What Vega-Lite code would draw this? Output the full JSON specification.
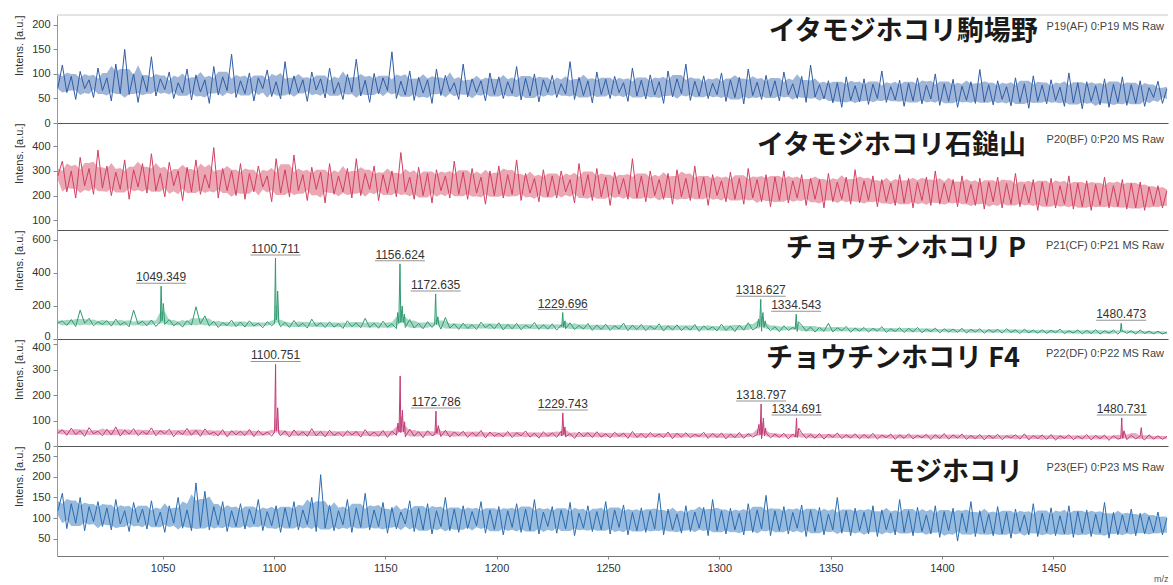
{
"$schema": "https://vega.github.io/schema/vega-lite/v6.json",
"padding": {"left": 13, "top": 14, "right": 3, "bottom": 0},
"background": "white",
"spacing": 0,
"bounds": "flush",
"resolve": {"scale": {"x": "independent", "y": "independent"}},
"config": {
"view": {"stroke": null},
"text": {"font": "Liberation Sans"},
"axis": {"labelFont": "Liberation Sans", "titleFont": "Liberation Sans", "labelFontSize": 11, "labelColor": "#333", "titleFontSize": 11, "titleFontWeight": "normal", "titleColor": "#333", "tickColor": "#888", "domainColor": "#999", "tickSize": 4, "labelPadding": 3, "titlePadding": 7, "grid": false, "labelFlush": false, "labelOverlap": false},
"axisY": {"titleAnchor": "end", "tickCount": 20}
},
"datasets": {
"s": [
{"mz":1003,"a":72,"b":280,"c":96,"d":50,"e":118},
{"mz":1005,"a":118,"b":340,"c":110,"d":64,"e":160},
{"mz":1007,"a":62,"b":215,"c":82,"d":42,"e":75},
{"mz":1009,"a":95,"b":300,"c":118,"d":70,"e":135},
{"mz":1011,"a":48,"b":190,"c":76,"d":45,"e":88},
{"mz":1013,"a":105,"b":355,"c":175,"d":60,"e":150},
{"mz":1015,"a":70,"b":240,"c":95,"d":38,"e":70},
{"mz":1017,"a":88,"b":310,"c":125,"d":72,"e":128},
{"mz":1019,"a":52,"b":205,"c":80,"d":48,"e":92},
{"mz":1021,"a":112,"b":385,"c":105,"d":58,"e":140},
{"mz":1023,"a":66,"b":230,"c":88,"d":40,"e":80},
{"mz":1025,"a":92,"b":320,"c":112,"d":66,"e":125},
{"mz":1027,"a":45,"b":200,"c":78,"d":44,"e":72},
{"mz":1029,"a":120,"b":295,"c":120,"d":75,"e":145},
{"mz":1031,"a":60,"b":225,"c":85,"d":39,"e":86},
{"mz":1033,"a":150,"b":345,"c":102,"d":62,"e":118},
{"mz":1035,"a":58,"b":185,"c":74,"d":47,"e":68},
{"mz":1037,"a":100,"b":305,"c":175,"d":68,"e":138},
{"mz":1039,"a":42,"b":235,"c":90,"d":41,"e":90},
{"mz":1041,"a":96,"b":330,"c":108,"d":57,"e":122},
{"mz":1043,"a":64,"b":210,"c":80,"d":46,"e":74},
{"mz":1045,"a":135,"b":370,"c":115,"d":71,"e":142},
{"mz":1047,"a":55,"b":220,"c":76,"d":40,"e":82},
{"mz":1049,"a":90,"b":290,"c":104,"d":60,"e":115},
{"mz":1051,"a":68,"b":195,"c":88,"d":48,"e":66},
{"mz":1053,"a":104,"b":335,"c":118,"d":66,"e":130},
{"mz":1055,"a":50,"b":240,"c":80,"d":37,"e":88},
{"mz":1057,"a":82,"b":300,"c":100,"d":58,"e":150},
{"mz":1059,"a":61,"b":180,"c":72,"d":45,"e":76},
{"mz":1061,"a":110,"b":315,"c":112,"d":69,"e":120},
{"mz":1063,"a":47,"b":215,"c":84,"d":42,"e":70},
{"mz":1065,"a":98,"b":345,"c":195,"d":62,"e":185},
{"mz":1067,"a":63,"b":205,"c":92,"d":38,"e":78},
{"mz":1069,"a":88,"b":285,"c":140,"d":67,"e":165},
{"mz":1071,"a":40,"b":230,"c":78,"d":46,"e":72},
{"mz":1073,"a":115,"b":395,"c":108,"d":55,"e":128},
{"mz":1075,"a":57,"b":190,"c":70,"d":40,"e":84},
{"mz":1077,"a":94,"b":310,"c":99,"d":64,"e":140},
{"mz":1079,"a":66,"b":220,"c":82,"d":36,"e":68},
{"mz":1081,"a":140,"b":300,"c":114,"d":60,"e":118},
{"mz":1083,"a":52,"b":200,"c":75,"d":44,"e":80},
{"mz":1085,"a":86,"b":330,"c":102,"d":58,"e":135},
{"mz":1087,"a":60,"b":185,"c":72,"d":41,"e":74},
{"mz":1089,"a":102,"b":290,"c":110,"d":65,"e":122},
{"mz":1091,"a":45,"b":215,"c":79,"d":37,"e":86},
{"mz":1093,"a":92,"b":320,"c":96,"d":61,"e":145},
{"mz":1095,"a":70,"b":235,"c":68,"d":43,"e":70},
{"mz":1097,"a":108,"b":280,"c":105,"d":55,"e":116},
{"mz":1099,"a":54,"b":175,"c":80,"d":39,"e":82},
{"mz":1101,"a":84,"b":350,"c":115,"d":66,"e":130},
{"mz":1103,"a":49,"b":210,"c":74,"d":40,"e":66},
{"mz":1105,"a":125,"b":305,"c":100,"d":59,"e":125},
{"mz":1107,"a":58,"b":195,"c":70,"d":35,"e":78},
{"mz":1109,"a":96,"b":365,"c":112,"d":63,"e":140},
{"mz":1111,"a":62,"b":220,"c":76,"d":42,"e":72},
{"mz":1113,"a":88,"b":285,"c":95,"d":56,"e":120},
{"mz":1115,"a":44,"b":180,"c":66,"d":38,"e":85},
{"mz":1117,"a":104,"b":315,"c":120,"d":68,"e":150},
{"mz":1119,"a":67,"b":225,"c":78,"d":40,"e":68},
{"mz":1121,"a":90,"b":295,"c":98,"d":57,"e":205},
{"mz":1123,"a":51,"b":170,"c":69,"d":36,"e":76},
{"mz":1125,"a":112,"b":330,"c":104,"d":62,"e":132},
{"mz":1127,"a":60,"b":205,"c":72,"d":41,"e":70},
{"mz":1129,"a":83,"b":280,"c":93,"d":54,"e":118},
{"mz":1131,"a":48,"b":215,"c":64,"d":37,"e":84},
{"mz":1133,"a":99,"b":310,"c":110,"d":60,"e":145},
{"mz":1135,"a":63,"b":190,"c":75,"d":43,"e":66},
{"mz":1137,"a":130,"b":350,"c":97,"d":57,"e":125},
{"mz":1139,"a":55,"b":200,"c":68,"d":35,"e":78},
{"mz":1141,"a":87,"b":290,"c":125,"d":64,"e":160},
{"mz":1143,"a":42,"b":225,"c":70,"d":40,"e":72},
{"mz":1145,"a":101,"b":320,"c":96,"d":55,"e":120},
{"mz":1147,"a":59,"b":180,"c":65,"d":38,"e":80},
{"mz":1149,"a":92,"b":285,"c":108,"d":61,"e":138},
{"mz":1151,"a":66,"b":210,"c":72,"d":34,"e":64},
{"mz":1153,"a":145,"b":300,"c":92,"d":58,"e":126},
{"mz":1155,"a":50,"b":195,"c":63,"d":42,"e":74},
{"mz":1157,"a":85,"b":375,"c":100,"d":53,"e":115},
{"mz":1159,"a":57,"b":215,"c":70,"d":36,"e":86},
{"mz":1161,"a":106,"b":275,"c":118,"d":66,"e":142},
{"mz":1163,"a":46,"b":185,"c":66,"d":39,"e":68},
{"mz":1165,"a":93,"b":315,"c":94,"d":56,"e":124},
{"mz":1167,"a":61,"b":200,"c":62,"d":33,"e":72},
{"mz":1169,"a":88,"b":290,"c":105,"d":60,"e":135},
{"mz":1171,"a":40,"b":170,"c":70,"d":40,"e":62},
{"mz":1173,"a":110,"b":305,"c":88,"d":52,"e":118},
{"mz":1175,"a":56,"b":220,"c":60,"d":37,"e":80},
{"mz":1177,"a":97,"b":280,"c":130,"d":62,"e":150},
{"mz":1179,"a":64,"b":190,"c":66,"d":35,"e":70},
{"mz":1181,"a":82,"b":340,"c":92,"d":55,"e":122},
{"mz":1183,"a":48,"b":205,"c":58,"d":41,"e":66},
{"mz":1185,"a":120,"b":295,"c":96,"d":58,"e":130},
{"mz":1187,"a":53,"b":185,"c":64,"d":34,"e":75},
{"mz":1189,"a":90,"b":310,"c":87,"d":53,"e":116},
{"mz":1191,"a":62,"b":210,"c":57,"d":39,"e":82},
{"mz":1193,"a":86,"b":275,"c":102,"d":61,"e":140},
{"mz":1195,"a":45,"b":165,"c":68,"d":32,"e":64},
{"mz":1197,"a":102,"b":300,"c":90,"d":55,"e":120},
{"mz":1199,"a":58,"b":200,"c":61,"d":38,"e":73},
{"mz":1201,"a":94,"b":320,"c":98,"d":50,"e":128},
{"mz":1203,"a":50,"b":190,"c":55,"d":36,"e":60},
{"mz":1205,"a":84,"b":285,"c":88,"d":57,"e":118},
{"mz":1207,"a":60,"b":205,"c":62,"d":33,"e":78},
{"mz":1209,"a":115,"b":345,"c":95,"d":52,"e":135},
{"mz":1211,"a":47,"b":180,"c":56,"d":40,"e":66},
{"mz":1213,"a":91,"b":290,"c":84,"d":59,"e":122},
{"mz":1215,"a":55,"b":210,"c":66,"d":35,"e":70},
{"mz":1217,"a":100,"b":270,"c":100,"d":50,"e":145},
{"mz":1219,"a":43,"b":175,"c":58,"d":31,"e":62},
{"mz":1221,"a":88,"b":305,"c":86,"d":56,"e":115},
{"mz":1223,"a":62,"b":195,"c":60,"d":38,"e":80},
{"mz":1225,"a":97,"b":280,"c":92,"d":51,"e":128},
{"mz":1227,"a":52,"b":190,"c":54,"d":34,"e":64},
{"mz":1229,"a":80,"b":300,"c":85,"d":58,"e":120},
{"mz":1231,"a":59,"b":215,"c":62,"d":36,"e":74},
{"mz":1233,"a":125,"b":265,"c":98,"d":49,"e":138},
{"mz":1235,"a":48,"b":170,"c":57,"d":30,"e":58},
{"mz":1237,"a":93,"b":330,"c":82,"d":55,"e":112},
{"mz":1239,"a":56,"b":200,"c":60,"d":37,"e":76},
{"mz":1241,"a":86,"b":285,"c":94,"d":52,"e":130},
{"mz":1243,"a":41,"b":180,"c":52,"d":33,"e":68},
{"mz":1245,"a":104,"b":310,"c":84,"d":56,"e":116},
{"mz":1247,"a":58,"b":195,"c":58,"d":35,"e":72},
{"mz":1249,"a":89,"b":275,"c":90,"d":48,"e":140},
{"mz":1251,"a":50,"b":160,"c":52,"d":32,"e":62},
{"mz":1253,"a":95,"b":295,"c":80,"d":54,"e":120},
{"mz":1255,"a":62,"b":205,"c":61,"d":38,"e":78},
{"mz":1257,"a":82,"b":270,"c":96,"d":50,"e":132},
{"mz":1259,"a":44,"b":185,"c":50,"d":30,"e":60},
{"mz":1261,"a":112,"b":350,"c":83,"d":57,"e":114},
{"mz":1263,"a":55,"b":190,"c":57,"d":34,"e":70},
{"mz":1265,"a":87,"b":280,"c":88,"d":49,"e":125},
{"mz":1267,"a":49,"b":175,"c":50,"d":31,"e":66},
{"mz":1269,"a":98,"b":300,"c":78,"d":53,"e":118},
{"mz":1271,"a":57,"b":200,"c":58,"d":36,"e":74},
{"mz":1273,"a":84,"b":265,"c":92,"d":47,"e":160},
{"mz":1275,"a":40,"b":185,"c":48,"d":33,"e":60},
{"mz":1277,"a":106,"b":290,"c":80,"d":55,"e":122},
{"mz":1279,"a":53,"b":165,"c":55,"d":29,"e":72},
{"mz":1281,"a":90,"b":305,"c":86,"d":50,"e":110},
{"mz":1283,"a":60,"b":195,"c":51,"d":35,"e":64},
{"mz":1285,"a":120,"b":270,"c":76,"d":52,"e":130},
{"mz":1287,"a":46,"b":180,"c":54,"d":32,"e":68},
{"mz":1289,"a":85,"b":320,"c":88,"d":46,"e":115},
{"mz":1291,"a":55,"b":190,"c":46,"d":37,"e":76},
{"mz":1293,"a":96,"b":275,"c":80,"d":54,"e":126},
{"mz":1295,"a":50,"b":160,"c":56,"d":30,"e":58},
{"mz":1297,"a":81,"b":285,"c":74,"d":49,"e":145},
{"mz":1299,"a":58,"b":200,"c":49,"d":34,"e":70},
{"mz":1301,"a":102,"b":260,"c":90,"d":51,"e":118},
{"mz":1303,"a":44,"b":175,"c":52,"d":28,"e":62},
{"mz":1305,"a":88,"b":295,"c":78,"d":47,"e":124},
{"mz":1307,"a":52,"b":185,"c":45,"d":33,"e":72},
{"mz":1309,"a":93,"b":270,"c":84,"d":53,"e":112},
{"mz":1311,"a":39,"b":165,"c":53,"d":30,"e":60},
{"mz":1313,"a":110,"b":310,"c":98,"d":48,"e":135},
{"mz":1315,"a":56,"b":190,"c":55,"d":35,"e":66},
{"mz":1317,"a":83,"b":265,"c":72,"d":45,"e":120},
{"mz":1319,"a":48,"b":175,"c":47,"d":29,"e":74},
{"mz":1321,"a":97,"b":285,"c":82,"d":52,"e":155},
{"mz":1323,"a":54,"b":155,"c":50,"d":32,"e":58},
{"mz":1325,"a":86,"b":275,"c":74,"d":46,"e":118},
{"mz":1327,"a":45,"b":180,"c":44,"d":34,"e":70},
{"mz":1329,"a":104,"b":300,"c":80,"d":50,"e":128},
{"mz":1331,"a":57,"b":170,"c":52,"d":28,"e":62},
{"mz":1333,"a":80,"b":260,"c":70,"d":47,"e":114},
{"mz":1335,"a":50,"b":190,"c":46,"d":33,"e":76},
{"mz":1337,"a":95,"b":285,"c":84,"d":52,"e":132},
{"mz":1339,"a":42,"b":160,"c":48,"d":30,"e":56},
{"mz":1341,"a":118,"b":270,"c":72,"d":45,"e":120},
{"mz":1343,"a":53,"b":185,"c":42,"d":31,"e":68},
{"mz":1345,"a":78,"b":265,"c":70,"d":49,"e":126},
{"mz":1347,"a":49,"b":150,"c":47,"d":27,"e":60},
{"mz":1349,"a":86,"b":290,"c":95,"d":46,"e":110},
{"mz":1351,"a":41,"b":175,"c":43,"d":34,"e":72},
{"mz":1353,"a":82,"b":255,"c":68,"d":51,"e":150},
{"mz":1355,"a":32,"b":185,"c":50,"d":29,"e":64},
{"mz":1357,"a":94,"b":275,"c":76,"d":44,"e":118},
{"mz":1359,"a":46,"b":165,"c":41,"d":32,"e":58},
{"mz":1361,"a":76,"b":305,"c":66,"d":48,"e":124},
{"mz":1363,"a":43,"b":170,"c":48,"d":28,"e":70},
{"mz":1365,"a":90,"b":260,"c":70,"d":45,"e":114},
{"mz":1367,"a":38,"b":180,"c":42,"d":31,"e":62},
{"mz":1369,"a":79,"b":280,"c":64,"d":50,"e":130},
{"mz":1371,"a":50,"b":155,"c":48,"d":27,"e":56},
{"mz":1373,"a":106,"b":265,"c":74,"d":43,"e":120},
{"mz":1375,"a":42,"b":175,"c":40,"d":33,"e":72},
{"mz":1377,"a":74,"b":250,"c":62,"d":47,"e":112},
{"mz":1379,"a":47,"b":160,"c":46,"d":26,"e":60},
{"mz":1381,"a":87,"b":285,"c":68,"d":44,"e":145},
{"mz":1383,"a":34,"b":170,"c":39,"d":30,"e":66},
{"mz":1385,"a":81,"b":270,"c":64,"d":48,"e":118},
{"mz":1387,"a":45,"b":150,"c":44,"d":28,"e":58},
{"mz":1389,"a":92,"b":255,"c":70,"d":42,"e":126},
{"mz":1391,"a":39,"b":180,"c":38,"d":32,"e":68},
{"mz":1393,"a":77,"b":275,"c":60,"d":46,"e":108},
{"mz":1395,"a":49,"b":160,"c":45,"d":25,"e":62},
{"mz":1397,"a":100,"b":300,"c":66,"d":44,"e":130},
{"mz":1399,"a":36,"b":165,"c":37,"d":30,"e":54},
{"mz":1401,"a":80,"b":250,"c":62,"d":49,"e":116},
{"mz":1403,"a":44,"b":175,"c":43,"d":27,"e":70},
{"mz":1405,"a":89,"b":265,"c":60,"d":43,"e":124},
{"mz":1407,"a":32,"b":155,"c":40,"d":31,"e":45},
{"mz":1409,"a":75,"b":280,"c":65,"d":47,"e":112},
{"mz":1411,"a":46,"b":170,"c":36,"d":26,"e":66},
{"mz":1413,"a":84,"b":245,"c":58,"d":41,"e":140},
{"mz":1415,"a":40,"b":160,"c":42,"d":29,"e":56},
{"mz":1417,"a":109,"b":270,"c":62,"d":45,"e":118},
{"mz":1419,"a":43,"b":145,"c":35,"d":24,"e":64},
{"mz":1421,"a":78,"b":255,"c":57,"d":42,"e":110},
{"mz":1423,"a":37,"b":175,"c":41,"d":30,"e":58},
{"mz":1425,"a":86,"b":275,"c":58,"d":46,"e":128},
{"mz":1427,"a":48,"b":150,"c":36,"d":25,"e":62},
{"mz":1429,"a":74,"b":250,"c":62,"d":40,"e":114},
{"mz":1431,"a":35,"b":165,"c":40,"d":31,"e":52},
{"mz":1433,"a":92,"b":290,"c":55,"d":44,"e":122},
{"mz":1435,"a":42,"b":155,"c":33,"d":27,"e":68},
{"mz":1437,"a":80,"b":245,"c":60,"d":48,"e":108},
{"mz":1439,"a":30,"b":170,"c":38,"d":24,"e":60},
{"mz":1441,"a":96,"b":265,"c":54,"d":41,"e":135},
{"mz":1443,"a":44,"b":140,"c":35,"d":29,"e":56},
{"mz":1445,"a":77,"b":255,"c":56,"d":43,"e":112},
{"mz":1447,"a":39,"b":160,"c":34,"d":26,"e":66},
{"mz":1449,"a":88,"b":270,"c":52,"d":45,"e":125},
{"mz":1451,"a":46,"b":150,"c":38,"d":23,"e":58},
{"mz":1453,"a":73,"b":240,"c":60,"d":40,"e":106},
{"mz":1455,"a":34,"b":165,"c":32,"d":30,"e":62},
{"mz":1457,"a":102,"b":280,"c":50,"d":44,"e":130},
{"mz":1459,"a":41,"b":145,"c":36,"d":25,"e":54},
{"mz":1461,"a":82,"b":250,"c":55,"d":39,"e":116},
{"mz":1463,"a":29,"b":155,"c":31,"d":28,"e":64},
{"mz":1465,"a":84,"b":260,"c":52,"d":45,"e":120},
{"mz":1467,"a":44,"b":140,"c":33,"d":24,"e":56},
{"mz":1469,"a":76,"b":245,"c":56,"d":41,"e":110},
{"mz":1471,"a":37,"b":160,"c":30,"d":29,"e":64},
{"mz":1473,"a":90,"b":275,"c":50,"d":43,"e":138},
{"mz":1475,"a":32,"b":150,"c":35,"d":22,"e":52},
{"mz":1477,"a":79,"b":240,"c":54,"d":40,"e":114},
{"mz":1479,"a":42,"b":155,"c":29,"d":27,"e":60},
{"mz":1481,"a":94,"b":265,"c":51,"d":46,"e":108},
{"mz":1483,"a":36,"b":145,"c":34,"d":25,"e":66},
{"mz":1485,"a":78,"b":250,"c":50,"d":42,"e":122},
{"mz":1487,"a":40,"b":150,"c":30,"d":28,"e":58},
{"mz":1489,"a":86,"b":255,"c":55,"d":39,"e":112},
{"mz":1491,"a":34,"b":140,"c":33,"d":24,"e":62},
{"mz":1493,"a":72,"b":235,"c":48,"d":44,"e":104},
{"mz":1495,"a":52,"b":160,"c":31,"d":27,"e":66},
{"mz":1497,"a":85,"b":240,"c":47,"d":40,"e":115},
{"mz":1499,"a":40,"b":150,"c":30,"d":26,"e":60},
{"mz":1501,"a":70,"b":220,"c":42,"d":38,"e":100},
{"mz":1049.349,"c":320},{"mz":1049.8,"c":110},{"mz":1050.35,"c":215},
{"mz":1100.3,"c":95},{"mz":1100.711,"c":490},{"mz":1101.2,"c":120},{"mz":1101.7,"c":290},{"mz":1102.2,"c":100},
{"mz":1155.6,"c":160},{"mz":1156.1,"c":95},{"mz":1156.624,"c":455},{"mz":1157.1,"c":110},{"mz":1157.6,"c":200},{"mz":1158.1,"c":100},{"mz":1158.6,"c":150},
{"mz":1172.2,"c":90},{"mz":1172.635,"c":273},{"mz":1173.1,"c":95},{"mz":1173.6,"c":135},{"mz":1174.1,"c":85},
{"mz":1229.3,"c":75},{"mz":1229.696,"c":160},{"mz":1230.1,"c":70},{"mz":1230.7,"c":110},
{"mz":1317.6,"c":120},{"mz":1318.1,"c":75},{"mz":1318.627,"c":240},{"mz":1319.1,"c":90},{"mz":1319.6,"c":160},{"mz":1320.1,"c":70},{"mz":1320.6,"c":110},
{"mz":1334.1,"c":60},{"mz":1334.543,"c":150},{"mz":1334.9,"c":65},{"mz":1335.5,"c":105},
{"mz":1480.1,"c":45},{"mz":1480.473,"c":95},{"mz":1480.9,"c":45},
{"mz":1100.3,"d":55},{"mz":1100.751,"d":320},{"mz":1101.2,"d":60},{"mz":1101.7,"d":150},{"mz":1102.2,"d":50},
{"mz":1155.7,"d":90},{"mz":1156.2,"d":55},{"mz":1156.7,"d":275},{"mz":1157.2,"d":70},{"mz":1157.7,"d":140},{"mz":1158.2,"d":55},{"mz":1158.7,"d":95},
{"mz":1172.3,"d":45},{"mz":1172.786,"d":137},{"mz":1173.3,"d":50},{"mz":1173.8,"d":80},
{"mz":1229.3,"d":40},{"mz":1229.743,"d":130},{"mz":1230.2,"d":45},{"mz":1230.7,"d":75},
{"mz":1317.8,"d":85},{"mz":1318.3,"d":45},{"mz":1318.797,"d":165},{"mz":1319.3,"d":50},{"mz":1319.8,"d":110},{"mz":1320.3,"d":40},{"mz":1320.8,"d":70},
{"mz":1334.2,"d":35},{"mz":1334.691,"d":110},{"mz":1335.2,"d":40},{"mz":1335.7,"d":70},
{"mz":1480.3,"d":30},{"mz":1480.731,"d":110},{"mz":1481.2,"d":30},{"mz":1481.7,"d":60},
{"mz":1489.5,"d":72},{"mz":1490,"d":30}
],
"pk": [
{"p":"c","mz":1049.349,"v":320},{"p":"c","mz":1100.711,"v":490},{"p":"c","mz":1156.624,"v":455},{"p":"c","mz":1172.635,"v":273},{"p":"c","mz":1229.696,"v":160},{"p":"c","mz":1318.627,"v":240},{"p":"c","mz":1334.543,"v":150},{"p":"c","mz":1480.473,"v":95},
{"p":"d","mz":1100.751,"v":320},{"p":"d","mz":1172.786,"v":137},{"p":"d","mz":1229.743,"v":130},{"p":"d","mz":1318.797,"v":165},{"p":"d","mz":1334.691,"v":110},{"p":"d","mz":1480.731,"v":110}
]
},
"vconcat": [
{
"width": 1111, "height": 108,
"layer": [
{"data": {"name": "s"}, "transform": [{"filter": "isValid(datum.a)"}, {"window": [{"op": "q1", "field": "a", "as": "lo"}, {"op": "q3", "field": "a", "as": "hi"}], "frame": [-3, 3], "sort": [{"field": "mz"}]}],
 "mark": {"type": "area", "color": "#3f6db4", "opacity": 0.5, "clip": true},
 "encoding": {
  "x": {"field": "mz", "type": "quantitative", "scale": {"domain": [1002.6, 1501.5], "nice": false, "zero": false}, "axis": {"labels": false, "ticks": false, "title": null, "domainColor": "#555", "domainWidth": 1.2}},
  "y": {"field": "lo", "type": "quantitative", "scale": {"domain": [0, 220], "nice": false, "zero": false}, "axis": {"values": [0, 50, 100, 150, 200], "tickCount": 20, "labelOverlap": false, "title": "Intens. [a.u.]"}},
  "y2": {"field": "hi"}}},
{"data": {"name": "s"}, "transform": [{"filter": "isValid(datum.a)"}],
 "mark": {"type": "line", "color": "#2f5da6", "strokeWidth": 1, "clip": true},
 "encoding": {
  "x": {"field": "mz", "type": "quantitative"},
  "y": {"field": "a", "type": "quantitative"},
  "order": {"field": "mz", "type": "quantitative"}}},
{"data": {"values": [{}]}, "mark": {"type": "rule", "color": "#c8c8c8"}, "encoding": {"y": {"datum": 220}}},
{"data": {"values": [{}]}, "mark": {"type": "text", "font": "Noto Sans CJK JP", "fontWeight": "bold", "fontSize": 27, "align": "right", "baseline": "middle", "color": "#1a1a1a"},
 "encoding": {"x": {"datum": 1443}, "y": {"datum": 186}, "text": {"value": "イタモジホコリ駒場野"}}},
{"data": {"values": [{}]}, "mark": {"type": "text", "fontSize": 11, "align": "right", "baseline": "middle", "color": "#444"},
 "encoding": {"x": {"datum": 1499.7}, "y": {"datum": 196}, "text": {"value": "P19(AF) 0:P19 MS Raw"}}}
]
},
{
"width": 1111, "height": 107,
"layer": [
{"data": {"name": "s"}, "transform": [{"filter": "isValid(datum.b)"}, {"window": [{"op": "q1", "field": "b", "as": "lo"}, {"op": "q3", "field": "b", "as": "hi"}], "frame": [-3, 3], "sort": [{"field": "mz"}]}],
 "mark": {"type": "area", "color": "#d94f6c", "opacity": 0.5, "clip": true},
 "encoding": {
  "x": {"field": "mz", "type": "quantitative", "scale": {"domain": [1002.6, 1501.5], "nice": false, "zero": false}, "axis": {"labels": false, "ticks": false, "title": null, "domainColor": "#555", "domainWidth": 1.2}},
  "y": {"field": "lo", "type": "quantitative", "scale": {"domain": [60, 495], "nice": false, "zero": false}, "axis": {"values": [100, 200, 300, 400], "tickCount": 20, "labelOverlap": false, "title": "Intens. [a.u.]"}},
  "y2": {"field": "hi"}}},
{"data": {"name": "s"}, "transform": [{"filter": "isValid(datum.b)"}],
 "mark": {"type": "line", "color": "#d1405f", "strokeWidth": 1, "clip": true},
 "encoding": {
  "x": {"field": "mz", "type": "quantitative"},
  "y": {"field": "b", "type": "quantitative"},
  "order": {"field": "mz", "type": "quantitative"}}},
{"data": {"values": [{}]}, "mark": {"type": "text", "font": "Noto Sans CJK JP", "fontWeight": "bold", "fontSize": 27, "align": "right", "baseline": "middle", "color": "#1a1a1a"},
 "encoding": {"x": {"datum": 1437.7}, "y": {"datum": 400}, "text": {"value": "イタモジホコリ石鎚山"}}},
{"data": {"values": [{}]}, "mark": {"type": "text", "fontSize": 11, "align": "right", "baseline": "middle", "color": "#444"},
 "encoding": {"x": {"datum": 1499.7}, "y": {"datum": 424}, "text": {"value": "P20(BF) 0:P20 MS Raw"}}}
]
},
{
"width": 1111, "height": 109,
"layer": [
{"data": {"name": "s"}, "transform": [{"filter": "isValid(datum.c)"}, {"window": [{"op": "q1", "field": "c", "as": "lo"}, {"op": "q3", "field": "c", "as": "hi"}], "frame": [-3, 3], "sort": [{"field": "mz"}]}],
 "mark": {"type": "area", "color": "#35a67c", "opacity": 0.45, "clip": true},
 "encoding": {
  "x": {"field": "mz", "type": "quantitative", "scale": {"domain": [1002.6, 1501.5], "nice": false, "zero": false}, "axis": {"labels": false, "ticks": false, "title": null, "domainColor": "#555", "domainWidth": 1.2}},
  "y": {"field": "lo", "type": "quantitative", "scale": {"domain": [0, 660], "nice": false, "zero": false}, "axis": {"values": [0, 200, 400, 600], "tickCount": 20, "labelOverlap": false, "labelOffset": {"condition": {"test": "datum.value == 0", "value": -3}, "value": 0}, "title": "Intens. [a.u.]"}},
  "y2": {"field": "hi"}}},
{"data": {"name": "s"}, "transform": [{"filter": "isValid(datum.c)"}],
 "mark": {"type": "line", "color": "#2f9a70", "strokeWidth": 1, "clip": true},
 "encoding": {
  "x": {"field": "mz", "type": "quantitative"},
  "y": {"field": "c", "type": "quantitative"},
  "order": {"field": "mz", "type": "quantitative"}}},
{"data": {"name": "pk"}, "transform": [{"filter": "datum.p == 'c'"}],
 "mark": {"type": "tick", "orient": "horizontal", "size": 50, "thickness": 1, "color": "#666", "yOffset": -3},
 "encoding": {"x": {"field": "mz", "type": "quantitative"}, "y": {"field": "v", "type": "quantitative"}}},
{"data": {"name": "pk"}, "transform": [{"filter": "datum.p == 'c'"}],
 "mark": {"type": "text", "fontSize": 12, "baseline": "alphabetic", "dy": -5, "color": "#333"},
 "encoding": {"x": {"field": "mz", "type": "quantitative"}, "y": {"field": "v", "type": "quantitative"}, "text": {"field": "mz", "type": "quantitative", "format": ".3f"}}},
{"data": {"values": [{}]}, "mark": {"type": "text", "font": "Noto Sans CJK JP", "fontWeight": "bold", "fontSize": 27, "align": "right", "baseline": "middle", "color": "#1a1a1a"},
 "encoding": {"x": {"datum": 1437.7}, "y": {"datum": 545}, "text": {"value": "チョウチンホコリ P"}}},
{"data": {"values": [{}]}, "mark": {"type": "text", "fontSize": 11, "align": "right", "baseline": "middle", "color": "#444"},
 "encoding": {"x": {"datum": 1499.7}, "y": {"datum": 564}, "text": {"value": "P21(CF) 0:P21 MS Raw"}}}
]
},
{
"width": 1111, "height": 107,
"layer": [
{"data": {"name": "s"}, "transform": [{"filter": "isValid(datum.d)"}, {"window": [{"op": "q1", "field": "d", "as": "lo"}, {"op": "q3", "field": "d", "as": "hi"}], "frame": [-3, 3], "sort": [{"field": "mz"}]}],
 "mark": {"type": "area", "color": "#c9457f", "opacity": 0.45, "clip": true},
 "encoding": {
  "x": {"field": "mz", "type": "quantitative", "scale": {"domain": [1002.6, 1501.5], "nice": false, "zero": false}, "axis": {"labels": false, "ticks": false, "title": null, "domainColor": "#555", "domainWidth": 1.2}},
  "y": {"field": "lo", "type": "quantitative", "scale": {"domain": [0, 420], "nice": false, "zero": false}, "axis": {"values": [0, 100, 200, 300, 400], "tickCount": 20, "labelOverlap": false, "labelOffset": {"condition": {"test": "datum.value == 400", "value": 3}, "value": 0}, "title": "Intens. [a.u.]"}},
  "y2": {"field": "hi"}}},
{"data": {"name": "s"}, "transform": [{"filter": "isValid(datum.d)"}],
 "mark": {"type": "line", "color": "#c23a74", "strokeWidth": 1, "clip": true},
 "encoding": {
  "x": {"field": "mz", "type": "quantitative"},
  "y": {"field": "d", "type": "quantitative"},
  "order": {"field": "mz", "type": "quantitative"}}},
{"data": {"name": "pk"}, "transform": [{"filter": "datum.p == 'd'"}],
 "mark": {"type": "tick", "orient": "horizontal", "size": 50, "thickness": 1, "color": "#666", "yOffset": -3},
 "encoding": {"x": {"field": "mz", "type": "quantitative"}, "y": {"field": "v", "type": "quantitative"}}},
{"data": {"name": "pk"}, "transform": [{"filter": "datum.p == 'd'"}],
 "mark": {"type": "text", "fontSize": 12, "baseline": "alphabetic", "dy": -5, "color": "#333"},
 "encoding": {"x": {"field": "mz", "type": "quantitative"}, "y": {"field": "v", "type": "quantitative"}, "text": {"field": "mz", "type": "quantitative", "format": ".3f"}}},
{"data": {"values": [{}]}, "mark": {"type": "text", "font": "Noto Sans CJK JP", "fontWeight": "bold", "fontSize": 27, "align": "right", "baseline": "middle", "color": "#1a1a1a"},
 "encoding": {"x": {"datum": 1435}, "y": {"datum": 341}, "text": {"value": "チョウチンホコリ F4"}}},
{"data": {"values": [{}]}, "mark": {"type": "text", "fontSize": 11, "align": "right", "baseline": "middle", "color": "#444"},
 "encoding": {"x": {"datum": 1499.7}, "y": {"datum": 361}, "text": {"value": "P22(DF) 0:P22 MS Raw"}}}
]
},
{
"width": 1111, "height": 110,
"layer": [
{"data": {"name": "s"}, "transform": [{"filter": "isValid(datum.e)"}, {"window": [{"op": "q1", "field": "e", "as": "lo"}, {"op": "q3", "field": "e", "as": "hi"}], "frame": [-3, 3], "sort": [{"field": "mz"}]}],
 "mark": {"type": "area", "color": "#2f78bd", "opacity": 0.5, "clip": true},
 "encoding": {
  "x": {"field": "mz", "type": "quantitative", "scale": {"domain": [1002.6, 1501.5], "nice": false, "zero": false}, "axis": {"values": [1050, 1100, 1150, 1200, 1250, 1300, 1350, 1400, 1450], "tickCount": 40, "format": "d", "title": "m/z", "titleAnchor": "end", "titleFontSize": 9, "titleColor": "#555", "tickSize": 3, "labelPadding": 3, "titlePadding": 1, "domainColor": "#777"}},
  "y": {"field": "lo", "type": "quantitative", "scale": {"domain": [9, 274], "nice": false, "zero": false}, "axis": {"values": [50, 100, 150, 200, 250], "tickCount": 20, "labelOverlap": false, "labelOffset": {"condition": {"test": "datum.value == 250", "value": 3}, "value": 0}, "title": "Intens. [a.u.]"}},
  "y2": {"field": "hi"}}},
{"data": {"name": "s"}, "transform": [{"filter": "isValid(datum.e)"}],
 "mark": {"type": "line", "color": "#2a6cb0", "strokeWidth": 1, "clip": true},
 "encoding": {
  "x": {"field": "mz", "type": "quantitative"},
  "y": {"field": "e", "type": "quantitative"},
  "order": {"field": "mz", "type": "quantitative"}}},
{"data": {"values": [{}]}, "mark": {"type": "text", "font": "Noto Sans CJK JP", "fontWeight": "bold", "fontSize": 27, "align": "right", "baseline": "middle", "color": "#1a1a1a"},
 "encoding": {"x": {"datum": 1436.4}, "y": {"datum": 209}, "text": {"value": "モジホコリ"}}},
{"data": {"values": [{}]}, "mark": {"type": "text", "fontSize": 11, "align": "right", "baseline": "middle", "color": "#444"},
 "encoding": {"x": {"datum": 1499.7}, "y": {"datum": 221}, "text": {"value": "P23(EF) 0:P23 MS Raw"}}}
]
}
]
}
